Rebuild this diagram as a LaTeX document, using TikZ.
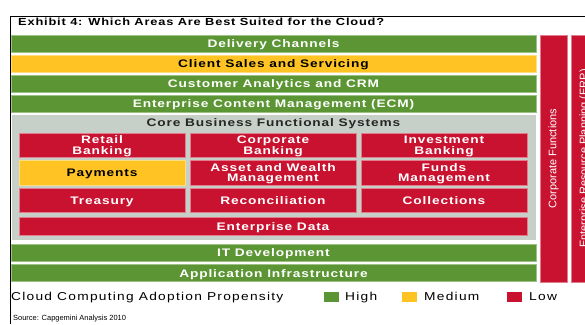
\documentclass[tikz,border=0pt]{standalone}
\usepackage{fontspec}
\setmainfont{Liberation Sans}
\newfontfamily\widebold[FakeStretch=1.25,LetterSpace=8]{Liberation Sans}
\newfontfamily\wideplain[FakeStretch=1.2,LetterSpace=11]{Liberation Sans}
\definecolor{hiGreen}{RGB}{92,150,52}
\definecolor{midYellow}{RGB}{255,196,36}
\definecolor{lowRed}{RGB}{200,18,48}
\definecolor{coreGray}{RGB}{198,207,200}
\tikzset{
  box/.style={rectangle, inner sep=0pt, outer sep=0pt, align=center},
  oneline/.style={text height=8bp, text depth=0bp},
  greenbar/.style={box, oneline, fill=hiGreen, draw=hiGreen!60!white, line width=0.5bp, text=white,
    font=\widebold\bfseries\fontsize{11}{12}\selectfont, minimum width=525bp, minimum height=17bp},
  yellowbar/.style={greenbar, fill=midYellow, draw=midYellow!60!white, text=black},
  cell/.style={box, fill=lowRed, draw=lowRed!55!white, line width=0.5bp, text=white,
    font=\widebold\bfseries\fontsize{11}{10.5}\selectfont, minimum width=166bp, minimum height=24bp},
  twoline/.style={cell, text height=18.5bp, text depth=0bp},
  paycell/.style={cell, fill=midYellow, draw=midYellow!60!white, text=black},
  sidecol/.style={box, fill=lowRed, draw=lowRed!55!white, line width=0.5bp,
    minimum width=27bp, minimum height=247bp},
  sidetext/.style={text=white, rotate=90, inner sep=0pt, font=\fontsize{11}{12}\selectfont},
  swatch/.style={box, minimum width=15bp, minimum height=10bp},
  legendtext/.style={anchor=west, inner sep=0pt, text height=8.3bp, text depth=0bp,
    font=\wideplain\fontsize{11.5}{12}\selectfont}
}
\begin{document}
\begin{tikzpicture}[x=1bp, y=-1bp]
\useasboundingbox (0,0) rectangle (585,324);

% frame lines and title
\coordinate (tl) at (10,16);
\coordinate (tr) at (585,16);
\coordinate (bl) at (10,324);
\draw[line width=1bp] (tr) -- (tl) -- (bl);
\node[anchor=base west, inner sep=0pt, font=\widebold\bfseries\fontsize{10.3}{11}\selectfont]
  (title) at (18,25) {Exhibit 4: Which Areas Are Best Suited for the Cloud?};

% horizontal layers
\node[greenbar]  (dc)  at (273.5,43.5) {Delivery Channels};
\node[yellowbar] (css) at (273.5,63.5) {Client Sales and Servicing};
\node[greenbar]  (ca)  at (273.5,83.5) {Customer Analytics and CRM};
\node[greenbar]  (ecm) at (273.5,103.5) {Enterprise Content Management (ECM)};

% core business functional systems
\node[box, fill=coreGray, draw=white, line width=0.5bp, minimum width=525bp, minimum height=126bp]
  (core) at (273.5,177) {};
\node[inner sep=0pt, oneline, font=\widebold\bfseries\fontsize{11}{12}\selectfont, text=black!85]
  (coretitle) at (273.5,122) {Core Business Functional Systems};

\node[twoline] (retail) at (102,145) {Retail\\Banking};
\node[twoline] (corp)   at (273,145) {Corporate\\Banking};
\node[twoline] (inv)    at (444,145) {Investment\\Banking};
\node[paycell, oneline, minimum height=25bp] (pay) at (102,172.5) {Payments};
\node[twoline, minimum height=25bp] (awm) at (273,172.5) {Asset and Wealth\\Management};
\node[twoline, minimum height=25bp] (fund) at (444,172.5) {Funds\\Management};
\node[cell, oneline] (treas)  at (102,200) {Treasury};
\node[cell, oneline] (recon)  at (273,200) {Reconciliation};
\node[cell, oneline] (coll)   at (444,200) {Collections};
\node[cell, oneline, minimum width=508bp, minimum height=18bp] (edata) at (273,226) {Enterprise Data};

\node[greenbar] (itd) at (273.5,252.5) {IT Development};
\node[greenbar] (ai)  at (273.5,273) {Application Infrastructure};

% vertical columns
\node[sidecol] (cf)  at (553.5,158.5) {};
\node[sidetext] (cftext) at (cf.center) {Corporate Functions};
\node[sidecol] (erp) at (584.5,158.5) {};
\node[sidetext] (erptext) at (erp.center) {Enterprise Resource Planning (ERP)};

% legend
\node[legendtext] (lgtitle) at (11,296.5) {Cloud Computing Adoption Propensity};
\node[swatch, fill=hiGreen]   (swhi)  at (331,297) {};
\node[legendtext] (lghi) at (345,296.5) {High};
\node[swatch, fill=midYellow] (swmid) at (409.5,297) {};
\node[legendtext] (lgmid) at (424,296.5) {Medium};
\node[swatch, fill=lowRed]    (swlow) at (514.5,297) {};
\node[legendtext] (lglow) at (529,296.5) {Low};

\node[anchor=west, inner sep=0pt, font=\fontsize{7.5}{8}\selectfont] (src) at (13,319)
  {Source: Capgemini Analysis 2010};
\end{tikzpicture}
\end{document}
